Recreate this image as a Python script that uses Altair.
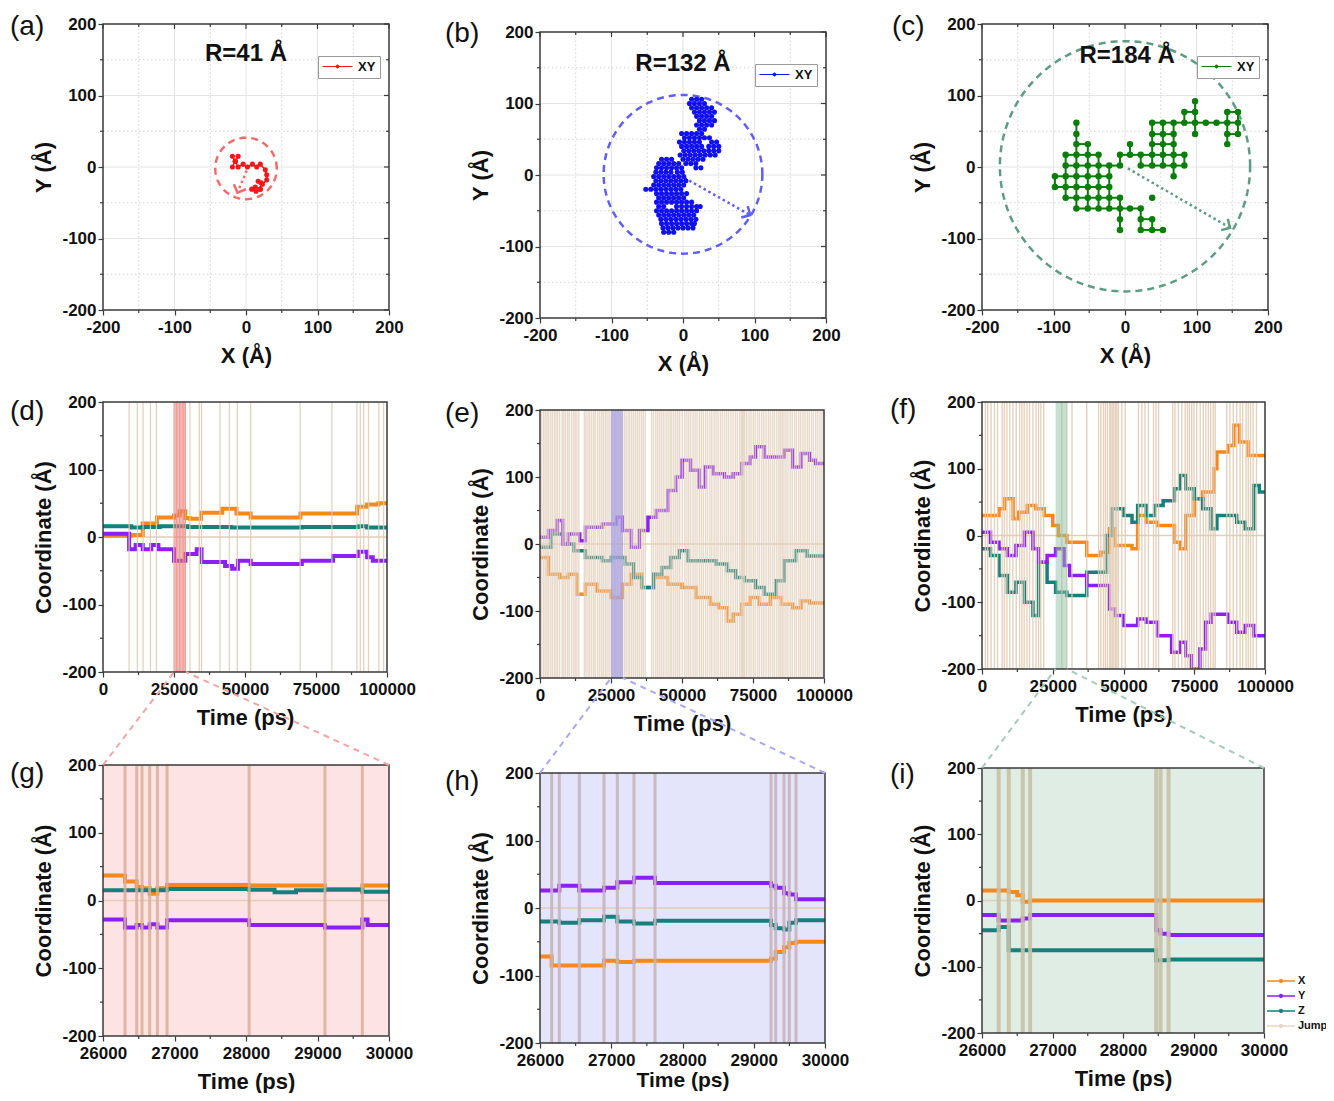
import math
import altair as alt
import numpy as np
import pandas as pd

FONT = "Liberation Sans"
INK = "#111111"
FRAME = "#3a3a3a"
ORANGE = "#F7881B"
PURPLE = "#8C1FF2"
TEAL = "#15807C"
JUMP_LEG = "#E8D6C2"

# ---------------- (a)-(c): XY trajectories ----------------
R_LABELS = ["R=41 Å", "R=132 Å", "R=184 Å"]
R_LABEL_X = [0, 0, 3]
R_LABEL_Y = [158, 155, 155]
CIRC_X = [0, 0, 0]
CIRC_Y = [-2, 1, 1]
CIRC_R = [43, 111, 175]
ARROW_X0 = [1, 2, 4]
ARROW_Y0 = [-5, -4, -2]
ARROW_X1 = [-12, 94, 147]
ARROW_Y1 = [-36, -56, -85]

A_X = [-19, -15, -11, -15, -19, -15, -11, -4, 2, 9, 15, 20, 27, 29, 29, 23, 17, 21, 20, 14, 8, 13, 20]
A_Y = [15, 8, 15, 8, 0, 8, 0, 4, 0, 4, 0, 4, -4, -11, -18, -24, -20, -22, -31, -34, -31, -28, -31]

B_ROWS = [
    (106, [12, 19, 26]),
    (100, [9, 16, 23, 30]),
    (94, [12, 19, 26, 33, 40]),
    (88, [16, 23, 30, 37, 44]),
    (82, [19, 26, 33, 40]),
    (76, [23, 30, 37, 44]),
    (70, [19, 26, 33, 40]),
    (64, [23, 30]),
    (58, [-2, 5, 12, 19, 26]),
    (52, [2, 9, 16, 23, 30, 37]),
    (46, [-5, 2, 9, 16, 23, 40, 47]),
    (40, [-2, 5, 12, 19, 26, 36, 43, 50]),
    (34, [1, 8, 15, 22, 29, 36, 43, 50]),
    (28, [-4, 3, 10, 17, 24, 31, 38, 45]),
    (22, [-30, -23, -16, 0, 7, 14, 21, 28]),
    (16, [-34, -27, -20, -13, -6, 4, 11, 18]),
    (10, [-37, -30, -23, -16, -9, -2, 18, 25]),
    (4, [-38, -31, -24, -17, -8, -1]),
    (-2, [-41, -34, -27, -20, -13, -6, 1]),
    (-8, [-38, -31, -24, -17, -10, -3, 4]),
    (-14, [-41, -34, -27, -20, -13, -6, 1]),
    (-20, [-52, -45, -38, -31, -24, -17, -10, -3]),
    (-26, [-37, -30, -23, -16, -9, -2, 5]),
    (-32, [-34, -27, -20, -13, -6, 1]),
    (-38, [-37, -30, -23, -16, -9, -2, 5, 12]),
    (-44, [-34, -27, -9, -2, 5, 12, 19, 24]),
    (-50, [-37, -30, -23, -16, -9, -2, 5, 12, 19]),
    (-56, [-34, -27, -20, -13, -6, 1, 8, 15]),
    (-62, [-31, -24, -17, -10, -3, 4, 11, 18]),
    (-68, [-30, -23, -16, -9, -2, 5, 12, 16]),
    (-74, [-28, -21, -14, -7, 0, 7, 14]),
    (-80, [-27, -20, -13]),
]

C_ROWS = [
    (92, [98]),
    (77, [83, 98, 143, 158]),
    (62, [-68, 38, 53, 68, 83, 98, 113, 128, 143, 158]),
    (46, [-68, 38, 53, 68, 98, 143, 158]),
    (32, [-68, -52, 7, 38, 53, 68, 143]),
    (17, [-83, -68, -52, -37, -7, 7, 22, 38, 53, 68, 83]),
    (2, [-83, -68, -52, -37, -22, -7, 22, 38, 53, 68, 83]),
    (-13, [-98, -83, -68, -52, -37, -22, 68]),
    (-28, [-98, -83, -68, -52, -37, -22]),
    (-43, [-83, -68, -52, -37, -22, -7, 38]),
    (-58, [-68, -52, -37, -22, -7, 7, 22]),
    (-73, [-7, 22, 38]),
    (-88, [-7, 22, 38, 53]),
]

# ---------------- (d)-(i): coordinate time series (step breakpoints) ----------------
D_X_T = [0, 10000, 14000, 19000, 25000, 27000, 29000, 30500, 34500, 42000, 47000, 52000, 69500, 89500, 93000, 97000, 100000]
D_X_V = [2, 3, 20, 29, 32, 38, 28, 27, 36, 42, 35, 29, 35, 45, 48, 50, 50]
D_Y_T = [0, 9200, 11500, 14000, 17000, 19500, 25000, 29000, 33000, 34700, 43000, 45500, 47500, 52000, 70000, 81000, 90000, 93000, 95000, 100000]
D_Y_V = [5, -18, -12, -18, -12, -18, -35, -25, -18, -37, -43, -47, -35, -40, -35, -28, -22, -30, -35, -35]
D_Z_T = [0, 10000, 14000, 20000, 30000, 45000, 70000, 90000, 93000, 100000]
D_Z_V = [16, 14, 15, 16, 15, 14, 15, 16, 14, 14]
D_JUMPS = [9200, 12100, 14100, 16700, 18800, 24900, 25900, 27000, 28200, 29000, 30600, 33900, 34700, 41200,
           44500, 47300, 52000, 69400, 80600, 89400, 90600, 91800, 93500, 97100, 98800]

E_X_T = [0, 3000, 7000, 10000, 13000, 16000, 20000, 25000, 29000, 32000, 36000, 40000, 45000, 50000, 55000, 60000,
         63000, 66000, 68000, 71000, 74000, 77000, 81000, 85000, 89000, 92000, 95000, 100000]
E_X_V = [-20, -45, -50, -45, -75, -60, -70, -80, -60, -45, -65, -50, -60, -65, -80, -90, -95, -115, -105, -90, -80,
         -90, -80, -90, -95, -85, -88, -88]
E_Y_T = [0, 3000, 6000, 8000, 10000, 14000, 16000, 22000, 27000, 29000, 32000, 35000, 38000, 41000, 45000, 48000,
         50000, 53000, 56000, 58000, 61000, 65000, 68000, 71000, 74000, 76000, 79000, 82000, 86000, 89000, 92000,
         95000, 97000, 100000]
E_Y_V = [10, 20, 35, 0, 15, 5, 25, 30, 40, 20, -5, 20, 40, 50, 80, 100, 125, 110, 85, 115, 105, 100, 105, 120, 130,
         145, 130, 130, 140, 115, 135, 125, 120, 120]
E_Z_T = [0, 4000, 8000, 12000, 16000, 22000, 25000, 30000, 33000, 36000, 40000, 43000, 46000, 49000, 52000, 62000,
         66000, 69000, 72000, 76000, 79000, 83000, 86000, 90000, 94000, 100000]
E_Z_V = [-5, 15, 0, -10, -20, -25, -20, -30, -50, -65, -45, -35, -20, -10, -25, -30, -40, -50, -55, -65, -75, -55,
         -25, -10, -18, -18]
E_JUMPS = [600, 1300, 1900, 2500, 3000, 3700, 4300, 5000, 5600, 6200, 6900, 7800, 8400, 9000, 9700, 10300, 11100,
           11800, 12400, 13000, 13700, 15600, 16200, 16900, 17500, 18200, 18900, 19500, 20300, 21000, 21700, 22300,
           23000, 23600, 24300, 25000, 25500, 26100, 26600, 27200, 27800, 28400, 29000, 29700, 30300, 31000, 31600,
           32300, 33000, 33700, 34400, 35100, 35800, 36400, 37100, 39300, 40000, 40800, 41500, 42200, 42900, 43600,
           44400, 45100, 45800, 46400, 47100, 47800, 48500, 49200, 50100, 51000, 51700, 52400, 53100, 53900, 54600,
           55300, 56100, 56800, 57500, 58300, 59000, 59800, 60500, 61300, 62000, 62700, 63500, 64200, 65000, 65700,
           66400, 67200, 68000, 68800, 69500, 70300, 70900, 71300, 71700, 72100, 72800, 73600, 74300, 75100, 75800,
           76600, 77300, 78100, 78800, 79600, 80400, 81100, 81900, 82600, 83400, 84100, 84700, 85300, 85900, 86600,
           87300, 88100, 88800, 89600, 90300, 91100, 91800, 92600, 93300, 94100, 94800, 95600, 96300, 97100, 97800,
           98600, 99300]

F_X_T = [0, 6000, 8000, 11000, 13000, 16000, 19000, 22000, 25000, 27000, 30000, 37000, 42000, 45000, 47000, 53000,
         55000, 58000, 62000, 68000, 70000, 72000, 75000, 78000, 82000, 83000, 87000, 89000, 91000, 94000, 100000]
F_X_V = [30, 40, 55, 25, 35, 45, 40, 30, 15, 0, -10, -30, -25, 10, -15, -20, 30, 20, 15, -10, -20, 30, 55, 65, 100,
         125, 135, 165, 140, 120, 120]
F_Y_T = [0, 3000, 6000, 9000, 12000, 15000, 18000, 20000, 23000, 26000, 29000, 31000, 37000, 45000, 47000, 50000,
         55000, 58000, 62000, 67000, 70000, 72000, 74000, 77000, 79000, 81000, 87000, 90000, 93000, 96000, 100000]
F_Y_V = [5, -10, -20, -30, -15, 5, -20, -40, -30, -20, -45, -60, -75, -110, -120, -135, -125, -130, -150, -175, -160,
         -180, -200, -170, -130, -118, -130, -145, -135, -150, -150]
F_Z_T = [0, 3000, 6000, 9000, 12000, 15000, 18000, 20000, 23000, 26000, 30000, 37000, 44000, 46000, 50000, 53000,
         55000, 58000, 61000, 64000, 68000, 70000, 72000, 75000, 78000, 81000, 83000, 90000, 93000, 96000, 98000,
         100000]
F_Z_V = [-20, -30, -60, -85, -70, -100, -120, -40, -70, -85, -90, -55, 0, 40, 30, 20, 45, 30, 45, 52, 70, 90, 70, 55,
         40, 10, 30, 20, 10, 75, 65, 65]
F_JUMPS = [1200, 2000, 3200, 4400, 5500, 7100, 7900, 8800, 9800, 10900, 12100, 13300, 14100, 14900, 15900, 16800,
           18000, 19100, 20000, 20800, 21800, 28200, 30000, 31800, 37000, 41200, 42000, 42900, 43600, 44300, 45100,
           45500, 46000, 46500, 47100, 47600, 48200, 49400, 50600, 55300, 56500, 57600, 58800, 60600, 61500, 62400,
           67400, 68200, 69400, 70600, 71800, 72600, 73300, 74100, 74900, 75900, 77100, 78200, 79100, 80000, 80800,
           81700, 82400, 86500, 87600, 88800, 90000, 91200, 92100, 93300, 94100, 94900, 95800, 97000]

G_X_T = [26000, 26308, 26471, 26546, 26653, 26761, 26896, 28044, 29104, 29627, 30000]
G_X_V = [37, 28, 20, 18, 10, 18, 23, 22, 17, 22, 22]
G_Y_T = [26000, 26308, 26471, 26546, 26653, 26761, 26896, 28044, 29104, 29627, 29700, 30000]
G_Y_V = [-28, -40, -36, -40, -35, -40, -29, -36, -40, -28, -36, -36]
G_Z_T = [26000, 26896, 28044, 28400, 28700, 29104, 29627, 30000]
G_Z_V = [15, 17, 16, 12, 15, 16, 13, 13]
G_JUMPS = [26308, 26471, 26546, 26653, 26761, 26896, 28044, 29104, 29627]

H_X_T = [26000, 26164, 26898, 27085, 27319, 29242, 29308, 29424, 29499, 29593, 30000]
H_X_V = [-72, -85, -78, -80, -78, -75, -65, -58, -52, -50, -50]
H_Y_T = [26000, 26271, 26552, 26898, 27085, 27319, 27614, 29242, 29308, 29424, 29499, 29593, 30000]
H_Y_V = [26, 33, 26, 30, 38, 45, 37, 33, 30, 22, 20, 13, 13]
H_Z_T = [26000, 26271, 26552, 26898, 27085, 27319, 27614, 29242, 29308, 29424, 29499, 29593, 30000]
H_Z_V = [-20, -22, -18, -13, -20, -23, -19, -25, -30, -32, -22, -18, -18]
H_JUMPS = [26164, 26271, 26552, 26898, 27085, 27319, 27614, 29242, 29308, 29424, 29499, 29593]

I_X_T = [26000, 26379, 26500, 26578, 26682, 30000]
I_X_V = [15, 13, 8, -2, 0, 0]
I_Y_T = [26000, 26237, 26578, 26682, 28471, 28533, 28646, 30000]
I_Y_V = [-22, -30, -27, -22, -45, -50, -52, -52]
I_Z_T = [26000, 26237, 26379, 26682, 28471, 28646, 30000]
I_Z_V = [-45, -40, -75, -75, -90, -89, -89]
I_JUMPS = [26237, 26379, 26578, 26682, 28471, 28533, 28646]

BANDS = {"d": (25000, 29200), "e": (25000, 29200), "f": (26000, 30000)}
SERIES_NAMES = ["X", "Y", "Z", "Jump"]

XY_TICKS = [-200, -100, 0, 100, 200]
XY_MINOR = [-150, -50, 50, 150]
XY_MAJOR_GRID = [-100, 0, 100]
T_TICKS = [0, 25000, 50000, 75000, 100000]
T_MINOR = [12500, 37500, 62500, 87500]
ZOOM_TICKS = [26000, 27000, 28000, 29000, 30000]
ZOOM_MINOR = [26500, 27500, 28500, 29500]

# ---------------- layout (pixels) ----------------
GEOM = {
    "a": (286, 286, 0), "b": (286, 286, 8), "c": (286, 286, 0),
    "d": (284, 270, 0), "e": (284, 268, 8), "f": (283, 267, 0),
    "g": (286, 271, 0), "h": (285, 270, 8), "i": (282, 265, 3),
}
COL_LEFT = [103, 540, 982]
ROW_TOP = [24, 402, 765]
COL_GAP = [151, 156]
ROW_GAP = [84, 87]
LABEL_POS = {"a": (-93, 11), "b": (-95, 10), "c": (-90, 11), "d": (-93, 18), "e": (-95, 12),
             "f": (-92, 16), "g": (-93, 17), "h": (-95, 17), "i": (-92, 15)}
CHEVRON = "M-1,1L0,0L1,1"
LEG_SYM_TOP = "M-1,0L4,0M1.25,0A0.25,0.25,0,1,0,1.75,0A0.25,0.25,0,1,0,1.25,0Z"
LEG_SYM_I = "M-1,0L3,0M0.8,0A0.2,0.2,0,1,0,1.2,0A0.2,0.2,0,1,0,0.8,0Z"
HYPHEN = "'' + datum.value"


class Frame:
    def __init__(self, xdom, ydom, w, h, off, xax, yax):
        self.xs = alt.Scale(domain=xdom, nice=False, zero=False)
        self.ys = alt.Scale(domain=ydom, nice=False, zero=False, range=[h + off, off])
        self.xax, self.yax = xax, yax
        self.xdom, self.ydom = xdom, ydom
        self.w, self.h, self.off = w, h, off

    def X(self, f):
        return alt.X(f, type="quantitative", scale=self.xs, axis=self.xax)

    def Y(self, f):
        return alt.Y(f, type="quantitative", scale=self.ys, axis=self.yax)

    def box(self):
        return pd.DataFrame({"x0": [self.xdom[0]], "x1": [self.xdom[1]],
                             "y0": [self.ydom[0]], "y1": [self.ydom[1]]})

    def frame_layer(self):
        return alt.Chart(self.box()).mark_rect(fillOpacity=0, stroke=FRAME, strokeWidth=1.5).encode(
            x=self.X("x0"), x2="x1", y=self.Y("y0"), y2="y1")

    def bg_layer(self, color):
        return alt.Chart(self.box()).mark_rect(color=color, opacity=1).encode(
            x=self.X("x0"), x2="x1", y=self.Y("y0"), y2="y1")

    def vrules(self, values, **mk):
        df = pd.DataFrame({"v": values, "lo": self.ydom[0], "hi": self.ydom[1]})
        return alt.Chart(df).mark_rule(**mk).encode(x=self.X("v"), y=self.Y("lo"), y2="hi")

    def hrules(self, values, **mk):
        df = pd.DataFrame({"v": values, "lo": self.xdom[0], "hi": self.xdom[1]})
        return alt.Chart(df).mark_rule(**mk).encode(y=self.Y("v"), x=self.X("lo"), x2="hi")

    def xticks(self, values, y0, y1):
        df = pd.DataFrame({"v": values})
        return alt.Chart(df).mark_rule(color=FRAME, strokeWidth=1.2).encode(
            x=self.X("v"), y=alt.value(y0), y2=alt.value(y1))

    def yticks(self, values, x0, x1):
        df = pd.DataFrame({"v": values})
        return alt.Chart(df).mark_rule(color=FRAME, strokeWidth=1.2).encode(
            y=self.Y("v"), x=alt.value(x0), x2=alt.value(x1))

    def tick_layers(self, xmajor, xminor, ymajor, yminor, mirror):
        bot = self.h + self.off
        out = [self.xticks(xminor, bot, bot + 3), self.yticks(yminor, -3, 0)]
        if mirror:
            out += [self.xticks(xmajor, self.off, self.off + 5), self.xticks(xminor, self.off, self.off + 3),
                    self.yticks(ymajor, self.w, self.w - 5), self.yticks(yminor, self.w, self.w - 3)]
        return out


def label_layer(key, off):
    dx, dy = LABEL_POS[key]
    return alt.Chart(pd.DataFrame({"t": ["(" + key + ")"]})).mark_text(
        align="left", baseline="alphabetic", font=FONT, fontSize=28, fontWeight="normal", color=INK
    ).encode(x=alt.value(dx), y=alt.value(dy + off), text="t:N")


def axis_common(**kw):
    return alt.Axis(domain=False, grid=False, tickSize=5, labelFlush=False, labelOverlap=False,
                    labelExpr=HYPHEN, **kw)


def row_segments(rows, gap):
    out = []
    for y, xs in rows:
        xs = sorted(xs)
        for p, q in zip(xs[:-1], xs[1:]):
            if q - p <= gap:
                out.append({"x0": p, "y0": y, "x1": q, "y1": y})
    return out


def col_segments(rows, gap):
    cols = {}
    for y, xs in rows:
        for x in xs:
            cols.setdefault(x, []).append(y)
    out = []
    for x, ys in cols.items():
        ys = sorted(ys)
        for p, q in zip(ys[:-1], ys[1:]):
            if q - p <= gap:
                out.append({"x0": x, "y0": p, "x1": x, "y1": q})
    return out


def xy_panel(k, key, color, circ_color, traj_layers_fn):
    w, h, off = GEOM[key]
    xax = axis_common(values=XY_TICKS, title="X (Å)", titlePadding=10, labelPadding=4)
    yax = axis_common(values=XY_TICKS, title="Y (Å)", titlePadding=6, labelPadding=2)
    F = Frame([-200, 200], [-200, 200], w, h, off, xax, yax)
    layers = [
        F.vrules(XY_MAJOR_GRID, color="#E4E4E4", strokeWidth=1),
        F.hrules(XY_MAJOR_GRID, color="#E4E4E4", strokeWidth=1),
        F.vrules(XY_MINOR, color="#D2D2D2", strokeWidth=1, strokeDash=[1.5, 2.5]),
        F.hrules(XY_MINOR, color="#D2D2D2", strokeWidth=1, strokeDash=[1.5, 2.5]),
    ]
    ang = np.linspace(0, 2 * np.pi, 181)
    circ = pd.DataFrame({"x": CIRC_X[k] + CIRC_R[k] * np.cos(ang),
                         "y": CIRC_Y[k] + CIRC_R[k] * np.sin(ang), "o": np.arange(181)})
    layers.append(alt.Chart(circ).mark_line(color=circ_color, strokeWidth=2.5, strokeDash=[7, 5]).encode(
        x=F.X("x"), y=F.Y("y"), order="o:Q"))
    arr = pd.DataFrame({"x0": [ARROW_X0[k]], "y0": [ARROW_Y0[k]], "x1": [ARROW_X1[k]], "y1": [ARROW_Y1[k]]})
    theta = math.degrees(math.atan2(ARROW_X1[k] - ARROW_X0[k], ARROW_Y1[k] - ARROW_Y0[k])) % 360
    layers.append(alt.Chart(arr).mark_rule(color=circ_color, strokeWidth=2.5, strokeDash=[2.5, 3]).encode(
        x=F.X("x0"), y=F.Y("y0"), x2="x1", y2="y1"))
    layers.append(alt.Chart(arr).mark_point(shape=CHEVRON, angle=theta, size=170, filled=False, strokeWidth=2.5,
                                            color=circ_color, opacity=1).encode(x=F.X("x1"), y=F.Y("y1")))
    legend = alt.Legend(orient="none", legendX=215, legendY=32 + off, title=None, fillColor="white",
                        strokeColor="#9A9A9A", padding=4, symbolType=LEG_SYM_TOP, symbolSize=144,
                        symbolStrokeWidth=1, symbolStrokeColor=color, symbolFillColor=color, labelOffset=23,
                        labelFont=FONT, labelFontSize=13, labelFontWeight="bold", labelColor=INK)
    cenc = alt.Color("s:N", scale=alt.Scale(domain=["XY"], range=[color]), legend=legend)
    layers += traj_layers_fn(F, cenc)
    txt = pd.DataFrame({"x": [R_LABEL_X[k]], "y": [R_LABEL_Y[k]], "t": [R_LABELS[k]]})
    layers.append(alt.Chart(txt).mark_text(font=FONT, fontSize=24, fontWeight="bold", color=INK).encode(
        x=F.X("x"), y=F.Y("y"), text="t:N"))
    layers.append(F.frame_layer())
    layers += F.tick_layers(XY_TICKS, XY_MINOR, XY_TICKS, XY_MINOR, True)
    layers.append(label_layer(key, off))
    return alt.layer(*layers).properties(width=w, height=h + off)


def traj_a(F, cenc):
    df = pd.DataFrame({"x": A_X, "y": A_Y, "o": range(len(A_X)), "s": "XY"})
    return [
        alt.Chart(df).mark_line(color="#F01818", strokeWidth=1.5).encode(x=F.X("x"), y=F.Y("y"), order="o:Q"),
        alt.Chart(df).mark_circle(size=26, opacity=1).encode(x=F.X("x"), y=F.Y("y"), color=cenc),
    ]


def lattice_layers(F, cenc, rows, color, gap, size, sw, vertical):
    nodes = pd.DataFrame([{"x": x, "y": y, "s": "XY"} for y, xs in rows for x in xs])
    segs = row_segments(rows, gap) + (col_segments(rows, gap) if vertical else [])
    seg_df = pd.DataFrame(segs)
    return [
        alt.Chart(seg_df).mark_rule(color=color, strokeWidth=sw).encode(
            x=F.X("x0"), y=F.Y("y0"), x2="x1", y2="y1"),
        alt.Chart(nodes).mark_circle(size=size, opacity=1).encode(x=F.X("x"), y=F.Y("y"), color=cenc),
    ]


def ts_panel(key, series, jumps, xdom, xvals, xminor, jump_w, jump_color, jump_op, line_w, bg=None,
             band_color=None, legend=None, conn_color=None, source=None, title_pad=10, title_size=22):
    w, h, off = GEOM[key]
    xax = axis_common(values=xvals, title="Time (ps)", titlePadding=title_pad, labelPadding=4,
                      titleFontSize=title_size)
    yax = axis_common(values=XY_TICKS, title="Coordinate (Å)", titlePadding=6, labelPadding=2)
    F = Frame(xdom, [-200, 200], w, h, off, xax, yax)
    layers = []
    if bg:
        layers.append(F.bg_layer(bg))
    layers.append(F.hrules([0], color="#E2CDB6", strokeWidth=1.5))
    rows = []
    for name, ts, vs in series:
        rows += [{"t": t, "v": v, "s": name} for t, v in zip(ts, vs)]
    df = pd.DataFrame(rows)
    cenc = alt.Color("s:N", scale=alt.Scale(domain=SERIES_NAMES, range=[ORANGE, PURPLE, TEAL, JUMP_LEG]),
                     legend=legend)
    layers.append(alt.Chart(df).mark_line(interpolate="step-after", strokeWidth=line_w, clip=True).encode(
        x=F.X("t"), y=F.Y("v"), color=cenc))
    layers.append(F.vrules(jumps, color=jump_color, strokeWidth=jump_w, opacity=jump_op))
    if band_color:
        b0, b1 = BANDS[key]
        bdf = pd.DataFrame({"b0": [b0], "b1": [b1], "lo": [-200], "hi": [200]})
        layers.append(alt.Chart(bdf).mark_rect(color=band_color, opacity=0.5).encode(
            x=F.X("b0"), x2="b1", y=F.Y("lo"), y2="hi"))
    layers.append(F.frame_layer())
    layers += F.tick_layers(xvals, xminor, XY_TICKS, XY_MINOR, False)
    layers.append(label_layer(key, off))
    if conn_color:
        # dashed connectors from this zoom panel's top corners to the highlighted band of its source panel
        col = "ghi".find(key)
        sw_, sh_, soff = GEOM[source]
        sx0 = COL_LEFT[col] + sw_ * (BANDS[source][0] / 100000.0)
        sx1 = COL_LEFT[col] + sw_ * (BANDS[source][1] / 100000.0)
        sy = ROW_TOP[1] + soff + sh_
        gx, gy = COL_LEFT[col], ROW_TOP[2]
        cdf = pd.DataFrame({"k": [0]})
        for (px, tx) in [(0, sx0 - gx), (w, sx1 - gx)]:
            layers.append(alt.Chart(cdf).mark_rule(color=conn_color, strokeWidth=2, strokeDash=[6, 5]).encode(
                x=alt.value(px), y=alt.value(off), x2=alt.value(tx), y2=alt.value(sy - gy)))
    return alt.layer(*layers).properties(width=w, height=h + off)


def spacer(w, h):
    return alt.Chart(pd.DataFrame({"z": [0]})).mark_point(opacity=0).encode(
        x=alt.value(0), y=alt.value(0)).properties(width=w, height=h)


pa = xy_panel(0, "a", "#F01818", "#F26B6B", traj_a)
pb = xy_panel(1, "b", "#1010F2", "#5F5FF5",
              lambda F, c: lattice_layers(F, c, B_ROWS, "#1010F2", 8, 26, 1, False))
pc = xy_panel(2, "c", "#0A7D0A", "#5E9C82",
              lambda F, c: lattice_layers(F, c, C_ROWS, "#0A7D0A", 17, 42, 2, True))

pd_ = ts_panel("d", [("X", D_X_T, D_X_V), ("Z", D_Z_T, D_Z_V), ("Y", D_Y_T, D_Y_V)], D_JUMPS,
               [0, 100000], T_TICKS, T_MINOR, 1.3, "#E0CAB3", 0.85, 4, band_color="#EE6F6F")
pe = ts_panel("e", [("X", E_X_T, E_X_V), ("Z", E_Z_T, E_Z_V), ("Y", E_Y_T, E_Y_V)], E_JUMPS,
              [0, 100000], T_TICKS, T_MINOR, 1.5, "#E4D2BF", 0.8, 3.5, band_color="#8787EE")
pf = ts_panel("f", [("X", F_X_T, F_X_V), ("Z", F_Z_T, F_Z_V), ("Y", F_Y_T, F_Y_V)], F_JUMPS,
              [0, 100000], T_TICKS, T_MINOR, 1.4, "#E0CAB3", 0.85, 3.5, band_color="#8DC2A4")

pg = ts_panel("g", [("X", G_X_T, G_X_V), ("Z", G_Z_T, G_Z_V), ("Y", G_Y_T, G_Y_V)], G_JUMPS,
              [26000, 30000], ZOOM_TICKS, ZOOM_MINOR, 3, "#D9AE99", 0.85, 4, bg="#FDE3E3",
              conn_color="#F5A3A3", source="d")
ph = ts_panel("h", [("X", H_X_T, H_X_V), ("Z", H_Z_T, H_Z_V), ("Y", H_Y_T, H_Y_V)], H_JUMPS,
              [26000, 30000], ZOOM_TICKS, ZOOM_MINOR, 3, "#C7B2BC", 0.9, 4, bg="#E4E4FB",
              conn_color="#A9A9F3", source="e", title_pad=1, title_size=21)
i_legend = alt.Legend(orient="none", legendX=284, legendY=208, title=None, symbolType=LEG_SYM_I, symbolSize=196,
                      symbolStrokeWidth=1.5, labelOffset=16, labelFont=FONT, labelFontSize=11,
                      labelFontWeight="bold", labelColor=INK, rowPadding=2, padding=0)
pi = ts_panel("i", [("X", I_X_T, I_X_V), ("Z", I_Z_T, I_Z_V), ("Y", I_Y_T, I_Y_V)], I_JUMPS,
              [26000, 30000], ZOOM_TICKS, ZOOM_MINOR, 4, "#C8C0A6", 0.9, 4, bg="#DFEDE5", legend=i_legend,
              conn_color="#A3CDB9", source="f")

cells = [
    pa, spacer(COL_GAP[0], 1), pb, spacer(COL_GAP[1], 1), pc,
    spacer(1, ROW_GAP[0]), spacer(1, ROW_GAP[0]), spacer(1, ROW_GAP[0]), spacer(1, ROW_GAP[0]), spacer(1, ROW_GAP[0]),
    pd_, spacer(COL_GAP[0], 1), pe, spacer(COL_GAP[1], 1), pf,
    spacer(1, ROW_GAP[1]), spacer(1, ROW_GAP[1]), spacer(1, ROW_GAP[1]), spacer(1, ROW_GAP[1]), spacer(1, ROW_GAP[1]),
    pg, spacer(COL_GAP[0], 1), ph, spacer(COL_GAP[1], 1), pi,
]

chart = alt.concat(*cells, columns=5, spacing=0, bounds="flush", align="each").resolve_scale(
    x="independent", y="independent", color="independent"
).resolve_legend(color="independent").properties(
    autosize=alt.AutoSizeParams(type="none"),
    padding={"left": 95, "top": 16, "right": 1223, "bottom": 1069},
    background="white",
).configure_view(stroke=None).configure_axis(
    labelFont=FONT, labelFontSize=17, labelFontWeight="bold", labelColor=INK,
    titleFont=FONT, titleFontSize=22, titleFontWeight="bold", titleColor=INK,
    tickColor=FRAME, tickWidth=1.2,
)

chart.save("out.html", embed_options={"renderer": "svg", "actions": False})
